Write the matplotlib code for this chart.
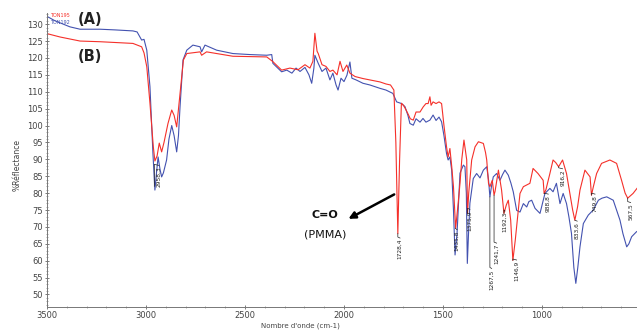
import matplotlib
matplotlib.use("Agg")
import matplotlib.pyplot as plt
from matplotlib.ticker import MultipleLocator

# blue spectrum (A)
blue_wn = [3500, 3460, 3384, 3333, 3232, 3157, 3066, 3045, 3022, 3010, 2996, 2980,
           2965, 2955, 2947, 2939, 2929, 2921, 2912, 2896, 2884, 2870, 2858, 2845,
           2836, 2828, 2813, 2794, 2763, 2727, 2719, 2702, 2643, 2561, 2475, 2390,
           2365, 2359, 2343, 2315, 2289, 2263, 2242, 2222, 2197, 2177, 2163, 2152,
           2147, 2130, 2111, 2091, 2071, 2056, 2040, 2030, 2015, 2000, 1985, 1970,
           1960, 1939, 1904, 1869, 1818, 1788, 1753, 1734, 1709, 1692, 1677, 1667,
           1650, 1636, 1616, 1601, 1586, 1566, 1550, 1535, 1520, 1507, 1495, 1482,
           1474, 1465, 1456, 1447, 1439, 1429, 1414, 1397, 1389, 1382, 1377, 1371,
           1364, 1347, 1330, 1313, 1296, 1279, 1270, 1263, 1255, 1246, 1229, 1212,
           1199, 1187, 1170, 1157, 1145, 1128, 1111, 1094, 1077, 1066, 1052, 1035,
           1010, 997, 985, 960, 944, 927, 909, 893, 876, 864, 851, 839, 829, 819,
           808, 791, 766, 741, 715, 697, 673, 640, 606, 591, 572, 561, 547, 522]
blue_r = [132.3, 131, 129.2, 128.5, 128.5, 128.3, 128, 127.7, 125.3, 125.5, 122.3, 111.5,
          91.8, 80.9, 86, 90.7, 87, 84.8, 86, 89.8, 96, 100, 97, 92.2,
          97, 105.6, 119.4, 122.3, 123.8, 123.3, 121.8, 123.8, 122.3, 121.3, 121, 120.8,
          121, 118.4, 117.5, 115.9, 116.4, 115.5, 117, 116, 117.2, 115, 112.5, 117,
          120.8, 118.4, 116, 117, 113.5, 115.5, 112, 110.5, 114, 113, 114.9, 118.8,
          114, 113.5, 112.5, 112, 111, 110.5, 109.5, 107, 106.5, 105.6, 103, 100.6,
          100.1, 102, 101, 102.1, 101, 101.6, 103.1, 101.5, 102.5, 101.1, 97, 91.7,
          89.8, 90.7, 86.8, 75, 61.7, 68, 85.9, 88.3, 87.8, 80, 59.2, 68,
          77, 84.3, 85.8, 84.5, 86.8, 87.8, 84, 78.9, 82, 84.8, 85.8, 83.8,
          85.5, 86.8, 85.3, 83, 80.4, 74.9, 74.4, 76.9, 75.9, 77.5, 77.9, 75.5,
          74, 77, 79.9, 81.4, 80.4, 82.9, 76.9, 79.9, 76.9, 73, 68.1, 58, 53.3, 58,
          64.1, 71, 73.5, 75, 77.9, 78.5, 78.9, 77.9, 72, 68, 64.1, 65, 67.1, 68.6]

# red spectrum (B)
red_wn = [3500, 3434, 3333, 3232, 3131, 3066, 3022, 3010, 2996, 2980, 2963, 2955,
          2944, 2933, 2921, 2909, 2889, 2870, 2858, 2845, 2828, 2811, 2794, 2727,
          2719, 2694, 2561, 2390, 2359, 2315, 2273, 2232, 2197, 2172, 2157, 2147,
          2136, 2130, 2111, 2091, 2071, 2056, 2035, 2020, 2005, 1986, 1970, 1944,
          1904, 1869, 1818, 1788, 1765, 1748, 1738, 1728, 1719, 1710, 1700, 1690,
          1677, 1665, 1650, 1636, 1616, 1600, 1586, 1575, 1566, 1560, 1550, 1535,
          1520, 1507, 1495, 1482, 1474, 1465, 1456, 1447, 1436, 1425, 1414, 1405,
          1394, 1385, 1380, 1376, 1370, 1355, 1338, 1321, 1296, 1285, 1279, 1270,
          1263, 1251, 1242, 1237, 1220, 1204, 1192, 1180, 1170, 1158, 1147, 1135,
          1128, 1111, 1094, 1061, 1045, 1020, 994, 989, 980, 960, 944, 930, 916,
          896, 876, 859, 845, 834, 820, 808, 783, 757, 750, 740, 724, 699, 657,
          623, 598, 580, 567, 540, 520]
red_r = [127.2, 126.2, 125, 124.8, 124.5, 124.3, 123.3, 121.5, 117.4, 106.6, 93.7, 89.5,
         91, 94.8, 92.2, 95, 100.6, 104.6, 103, 99.6, 109.6, 119.4, 121.3, 121.8,
         120.8, 121.8, 120.5, 120.3, 118.9, 116.4, 117, 116.5, 118, 117, 119, 127.3,
         122, 121.3, 118, 117.5, 116, 116.4, 115, 119, 116, 117.9, 115.5, 114.5,
         113.9, 113.5, 112.9, 112.3, 112, 110.5, 95, 68, 90, 106.6, 106, 105,
         103.5, 102, 101.6, 104, 104, 105.5, 106.5, 106.5, 108.5, 106, 107, 106.5,
         107, 106.5, 100, 93.7, 90.7, 93.2, 88, 81.9, 69.6, 76, 82.9, 90,
         95.7, 92, 89.8, 74, 80, 89.8, 93.7, 95.2, 94.7, 92, 89.8, 82.9,
         81.9, 83.8, 79.4, 80.5, 86.8, 80.9, 74, 76.5, 77.9, 72, 60.1, 66,
         70, 79.9, 81.9, 82.9, 87.3, 85.8, 83.8, 79.9, 81, 85.8, 89.8, 89, 87.8,
         89.8, 85.8, 79.9, 75, 72, 76, 80.9, 86.8, 84.8, 79.4, 82, 85.8, 88.8, 89.8,
         88.8, 83.8, 80, 78.5, 79.9, 81.4]

# peak labels: (peak wn, peak value, text wn, text top value, label)
peaks = [
    (2958, 82, 2935, 88, "2958,3"),
    (1728, 68, 1717, 66.5, "1728,4"),
    (1436, 69.6, 1429, 69, "1435,8"),
    (1376, 74, 1364, 75, "1375,9"),
    (1263, 78.9, 1254, 57.5, "1267,5"),
    (1242, 79.4, 1229, 65, "1241,7"),
    (1192, 74, 1187, 74.5, "1192,3"),
    (1147, 60.1, 1128, 60, "1146,9"),
    (989, 79.9, 968, 79.5, "988,8"),
    (916, 87.8, 896, 87, "916,2"),
    (834, 72, 822, 71.5, "833,6"),
    (750, 79.4, 732, 79.5, "749,8"),
    (567, 78.5, 552, 77, "567,5"),
]

red = "#f5302a"
blue = "#4352b0"

fig = plt.figure(figsize=(6.37, 3.30), dpi=100)
ax = fig.add_axes([47 / 637, 23 / 330, 590 / 637, 294 / 330])

ax.plot(blue_wn, blue_r, color=blue, lw=0.8)
ax.plot(red_wn, red_r, color=red, lw=0.8)

ax.set_xlim(3500, 520)
ax.set_ylim(46.3, 133.3)

for s in ["top", "right"]:
    ax.spines[s].set_visible(False)
for s in ["left", "bottom"]:
    ax.spines[s].set_color("#777777")
    ax.spines[s].set_linewidth(0.7)

ax.xaxis.set_major_locator(MultipleLocator(500))
ax.xaxis.set_minor_locator(MultipleLocator(100))
ax.yaxis.set_major_locator(MultipleLocator(5))
ax.yaxis.set_minor_locator(MultipleLocator(1))
ax.set_yticks(range(50, 131, 5))
ax.tick_params(which="major", length=3, width=0.6, color="#666666",
               labelsize=6, labelcolor="#444444", direction="inout", pad=1.5)
ax.tick_params(which="minor", length=1.5, width=0.5, color="#888888", direction="inout")

fig.text(300 / 637, 4.5 / 330, "Nombre d'onde (cm-1)", ha="center", va="center",
         fontsize=5, color="#444444")
fig.text(17 / 637, 165 / 330, "%Réflectance", ha="center", va="center",
         rotation=90, fontsize=5.5, color="#444444")

# peak labels with leader lines
for pw, pv, tw, tv, lab in peaks:
    ax.plot([pw, pw, tw], [pv, tv + 0.5, tv + 0.2], color="#222222", lw=0.5)
    ax.text(tw, tv, lab, rotation=90, ha="center", va="top", fontsize=4.2,
            color="#222222")

# C=O annotation
ax.annotate("", xy=(1990, 72), xytext=(1734, 80),
            arrowprops=dict(arrowstyle="-|>", color="black", lw=1.8,
                            mutation_scale=10))
ax.text(2096, 73.5, "C=O", ha="center", va="center", fontsize=8,
        fontweight="bold", color="#111111")
ax.text(2096, 67.8, "(PMMA)", ha="center", va="center", fontsize=8,
        color="#111111")

ax.text(3283, 131.5, "(A)", ha="center", va="center", fontsize=10.5,
        fontweight="bold", color="#222222")
ax.text(3283, 120.5, "(B)", ha="center", va="center", fontsize=10.5,
        fontweight="bold", color="#222222")

ax.text(3485, 132.6, "TON195", ha="left", va="center", fontsize=3.5, color=red)
ax.text(3485, 130.5, "TON192", ha="left", va="center", fontsize=3.5, color=blue)

fig.savefig("out.png", dpi=100)
